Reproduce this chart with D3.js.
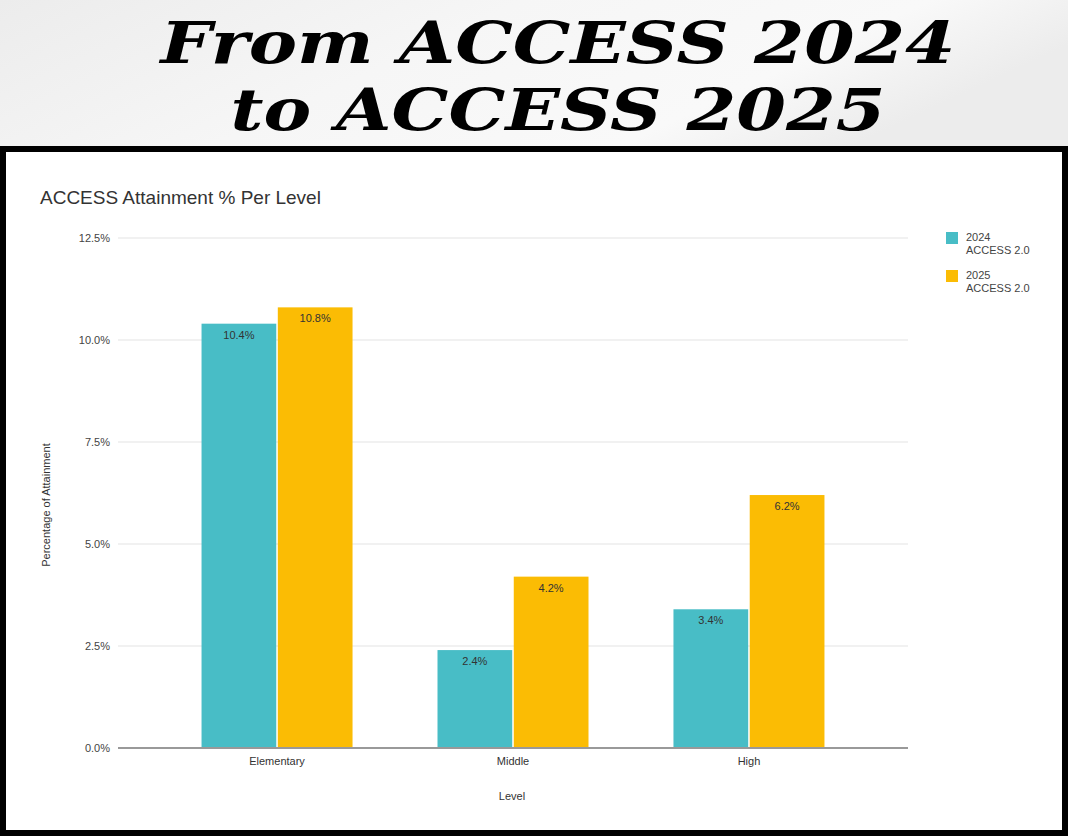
<!DOCTYPE html>
<html>
<head>
<meta charset="utf-8">
<script src="https://cdn.jsdelivr.net/npm/d3@7"></script>
<style>
  body { margin: 0; background: #fff; }
  svg { display: block; }
</style>
</head>
<body>
<svg id="chart" width="1068" height="839"></svg>
<script>
// data
const levels = ['Elementary', 'Middle', 'High']
const seriesNames = ['2024', '2025']
const seriesLabels = [['2024', 'ACCESS 2.0'], ['2025', 'ACCESS 2.0']]
const values2024 = [10.4, 2.4, 3.4]
const values2025 = [10.8, 4.2, 6.2]
const yTicks = [0, 2.5, 5, 7.5, 10, 12.5]
const colors = ['#48bdc6', '#fbbc04']

const svg = d3.select('#chart')

// header background
const defs = svg.append('defs')
const grad = defs.append('linearGradient').attr('id', 'hdr')
    .attr('x1', '0%').attr('y1', '0%').attr('x2', '100%').attr('y2', '30%')
grad.append('stop').attr('offset', '0%').attr('stop-color', '#ececec')
grad.append('stop').attr('offset', '45%').attr('stop-color', '#f6f6f6')
grad.append('stop').attr('offset', '80%').attr('stop-color', '#f9f9f9')
grad.append('stop').attr('offset', '100%').attr('stop-color', '#ececec')
svg.append('rect').attr('x', 0).attr('y', 0).attr('width', 1068).attr('height', 150).attr('fill', 'url(#hdr)')

const headline = [
  { text: 'From ACCESS 2024', x: 558, y: 63, len: 795 },
  { text: 'to ACCESS 2025', x: 558, y: 130, len: 655 }
]
svg.selectAll('text.headline').data(headline).enter().append('text')
    .attr('class', 'headline')
    .attr('x', d => d.x).attr('y', d => d.y)
    .attr('text-anchor', 'middle')
    .attr('textLength', d => d.len)
    .attr('lengthAdjust', 'spacingAndGlyphs')
    .style('font-family', '"DejaVu Serif", serif')
    .style('font-weight', 'bold')
    .style('font-style', 'italic')
    .style('font-size', '57px')
    .style('fill', '#000')
    .text(d => d.text)

// frame
svg.append('rect').attr('x', 3).attr('y', 149).attr('width', 1062).attr('height', 684)
    .attr('fill', '#fff').attr('stroke', '#000').attr('stroke-width', 6)

const font = 'Arial, "Liberation Sans", sans-serif'

svg.append('text').attr('x', 40).attr('y', 204)
    .style('font-family', font).style('font-size', '19px').style('fill', '#333')
    .text('ACCESS Attainment % Per Level')

const plot = { left: 118, right: 908, top: 238, bottom: 748 }

const y = d3.scaleLinear().domain([0, 12.5]).range([plot.bottom, plot.top])
const x0 = d3.scaleBand().domain(levels).range([plot.left, plot.right]).paddingOuter(0.174).paddingInner(0)
const x1 = d3.scaleBand().domain(seriesNames).range([0, 151]).paddingInner(0.02)

// gridlines
svg.append('g').selectAll('line').data(yTicks.filter(t => t > 0)).enter().append('line')
    .attr('x1', plot.left).attr('x2', plot.right)
    .attr('y1', d => y(d)).attr('y2', d => y(d))
    .attr('stroke', '#e3e3e3').attr('stroke-width', 1)

// y axis labels
const yAxis = d3.axisLeft(y).tickValues(yTicks).tickFormat(d => d.toFixed(1) + '%').tickSize(0).tickPadding(8)
svg.append('g').attr('transform', 'translate(' + plot.left + ',0)').call(yAxis)
    .call(g => g.select('.domain').remove())
    .selectAll('text').style('font-family', font).style('font-size', '11px').style('fill', '#444')

// bars
const rows = levels.map((l, i) => ({ level: l, vals: [values2024[i], values2025[i]] }))
const groups = svg.append('g').selectAll('g').data(rows).enter().append('g')
    .attr('transform', d => 'translate(' + (x0(d.level) + (x0.bandwidth() - 151) / 2) + ',0)')

groups.selectAll('rect').data(d => d.vals.map((v, j) => ({ v, s: seriesNames[j], j }))).enter().append('rect')
    .attr('x', d => x1(d.s)).attr('width', x1.bandwidth())
    .attr('y', d => y(d.v)).attr('height', d => y(0) - y(d.v))
    .attr('fill', d => colors[d.j])

groups.selectAll('text').data(d => d.vals.map((v, j) => ({ v, s: seriesNames[j] }))).enter().append('text')
    .attr('x', d => x1(d.s) + x1.bandwidth() / 2)
    .attr('y', d => y(d.v) + 15)
    .attr('text-anchor', 'middle')
    .style('font-family', font).style('font-size', '11px').style('fill', '#333')
    .text(d => d.v.toFixed(1) + '%')

// baseline
svg.append('line').attr('x1', plot.left).attr('x2', plot.right)
    .attr('y1', y(0)).attr('y2', y(0)).attr('stroke', '#999').attr('stroke-width', 2)

// x axis labels
const xAxis = d3.axisBottom(x0).tickSize(0).tickPadding(9)
svg.append('g').attr('transform', 'translate(0,' + plot.bottom + ')').call(xAxis)
    .call(g => g.select('.domain').remove())
    .selectAll('text').style('font-family', font).style('font-size', '11px').style('fill', '#333')

svg.append('text').attr('x', 512).attr('y', 800).attr('text-anchor', 'middle')
    .style('font-family', font).style('font-size', '11px').style('fill', '#333').text('Level')

svg.append('text').attr('transform', 'translate(50,505) rotate(-90)').attr('text-anchor', 'middle')
    .style('font-family', font).style('font-size', '11px').style('fill', '#333').text('Percentage of Attainment')

// legend
const legend = svg.append('g').selectAll('g').data(seriesLabels).enter().append('g')
    .attr('transform', (d, i) => 'translate(946,' + (232 + i * 38) + ')')
legend.append('rect').attr('width', 12).attr('height', 12).attr('fill', (d, i) => colors[i])
legend.append('text').attr('x', 20).attr('y', 9)
    .style('font-family', font).style('font-size', '11px').style('fill', '#444')
    .selectAll('tspan').data(d => d).enter().append('tspan')
    .attr('x', 20).attr('dy', (d, i) => i === 0 ? 0 : 13).text(d => d)
</script>
</body>
</html>
